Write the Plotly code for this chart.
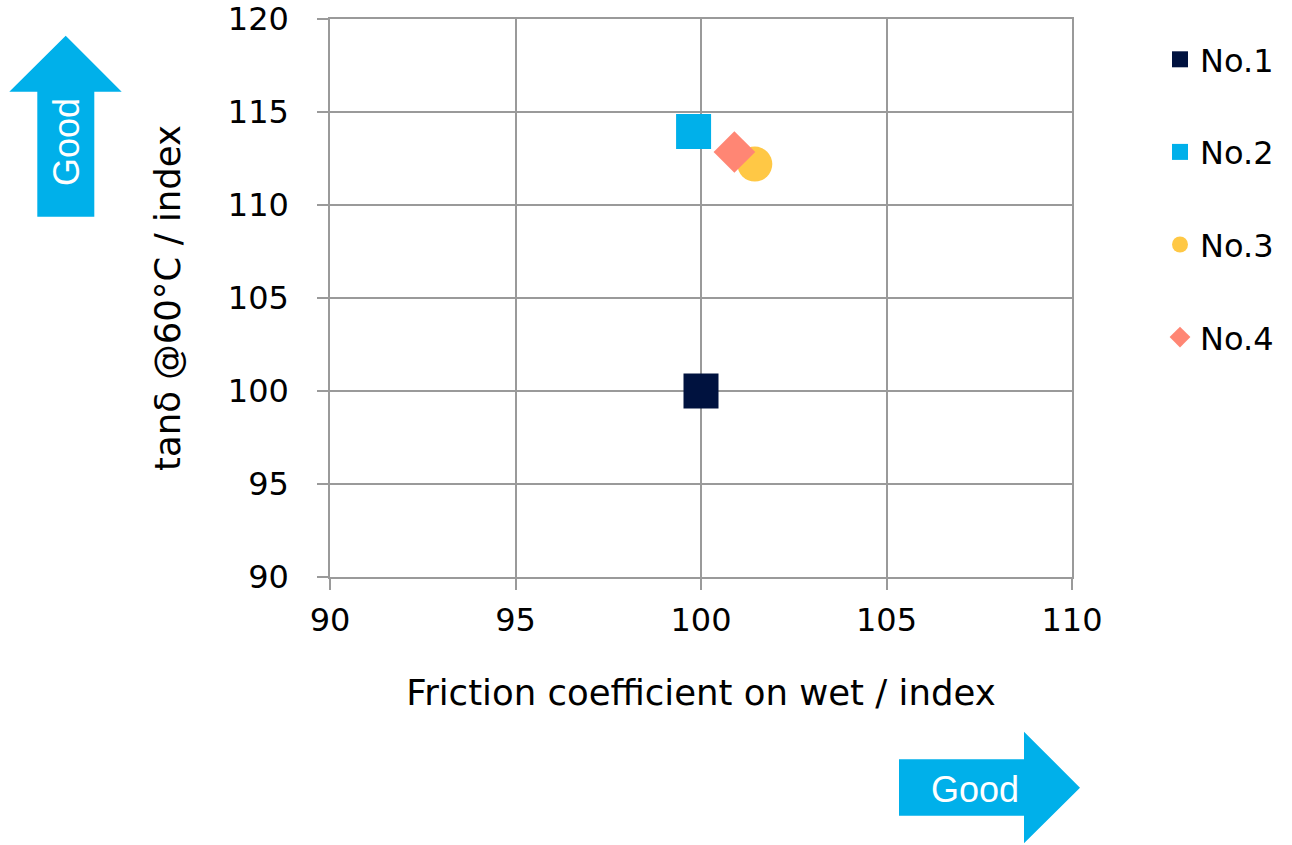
import plotly.graph_objects as go

names = ["No.1", "No.2", "No.3", "No.4"]
friction = [100.0, 99.8, 101.45, 100.9]
tan_delta = [100.0, 113.95, 112.2, 112.85]
colors = ["#00123F", "#00B0EA", "#FFC845", "#FF8674"]
symbols = ["square", "square", "circle", "diamond"]
sizes = [35, 35, 35, 32]
x_ticks = [90, 95, 100, 105, 110]
y_ticks = [90, 95, 100, 105, 110, 115, 120]

W, H = 1292, 845
# plot area in page pixels
L, R, T, B = 330, 1072, 19, 577

def px(x):
    return (x - L) / (R - L)

def py(y):
    return (B - y) / (B - T)

fig = go.Figure()
for i, n in enumerate(names):
    fig.add_trace(go.Scatter(
        x=[friction[i]], y=[tan_delta[i]], mode="markers", name=n,
        legendgroup=n,
        marker=dict(color=colors[i], symbol=symbols[i], size=sizes[i], line=dict(width=0)),
    ))

tick_font = dict(family="DejaVu Sans", size=32, color="#000000")
title_font = dict(family="DejaVu Sans", size=35.5, color="#000000")
grid = "#9a9a9a"

fig.update_xaxes(
    range=[90, 110], tickvals=x_ticks, ticktext=[str(v) for v in x_ticks],
    showgrid=True, gridcolor=grid, gridwidth=1.5,
    showline=True, linecolor=grid, linewidth=1.5, mirror=True,
    ticks="outside", ticklen=11, tickcolor=grid, tickwidth=1.5,
    tickfont=tick_font, zeroline=False, ticklabelstandoff=3, automargin=False,
    ticklabeloverflow="allow",
    title=dict(text="Friction coefficient on wet / index", font=title_font, standoff=42),
)
fig.update_yaxes(
    range=[90, 120], tickvals=y_ticks, ticktext=[str(v) for v in y_ticks],
    showgrid=True, gridcolor=grid, gridwidth=1.5,
    showline=True, linecolor=grid, linewidth=1.5, mirror=True,
    ticks="outside", ticklen=11, tickcolor=grid, tickwidth=1.5,
    tickfont=tick_font, zeroline=False, ticklabelstandoff=22, automargin=False,
    ticklabeloverflow="allow",
    title=dict(text="tanδ @60°C / index", font=title_font, standoff=36),
)

arrow_color = "#00B0EA"
up = [(65.7, 35.7), (121.7, 91.7), (94.3, 91.7), (94.3, 216.7),
      (37.3, 216.7), (37.3, 91.7), (9.3, 91.7)]
right = [(899, 759.3), (1024, 759.3), (1024, 731.7), (1080, 787.7),
         (1024, 843.3), (1024, 815.7), (899, 815.7)]

def path(pts):
    return "M " + " L ".join(f"{px(a):.5f},{py(b):.5f}" for a, b in pts) + " Z"

for pts in (up, right):
    fig.add_shape(type="path", path=path(pts), xref="paper", yref="paper",
                  fillcolor=arrow_color, line=dict(width=0), layer="below")

good_font = dict(family="Liberation Sans", size=36, color="#ffffff")
fig.add_annotation(text="Good", x=px(66), y=py(142), xref="paper", yref="paper",
                   xanchor="center", yanchor="middle",
                   showarrow=False, textangle=-90, font=good_font)
fig.add_annotation(text="Good", x=px(975), y=py(789), xref="paper", yref="paper",
                   xanchor="center", yanchor="middle",
                   showarrow=False, font=good_font)

fig.update_layout(
    width=W, height=H,
    margin=dict(l=L, r=W - R, t=T, b=H - B, autoexpand=False),
    paper_bgcolor="#ffffff", plot_bgcolor="#ffffff",
    showlegend=True,
    legend=dict(
        x=px(1160), y=py(32), xanchor="left", yanchor="top",
        font=dict(family="DejaVu Sans", size=32, color="#000000"),
        tracegroupgap=48, itemsizing="trace", bgcolor="rgba(0,0,0,0)",
    ),
)

fig.write_html(
    "out.html",
    config={"displayModeBar": False},
    post_script="document.body.style.margin='0';document.body.style.overflow='hidden';",
)
